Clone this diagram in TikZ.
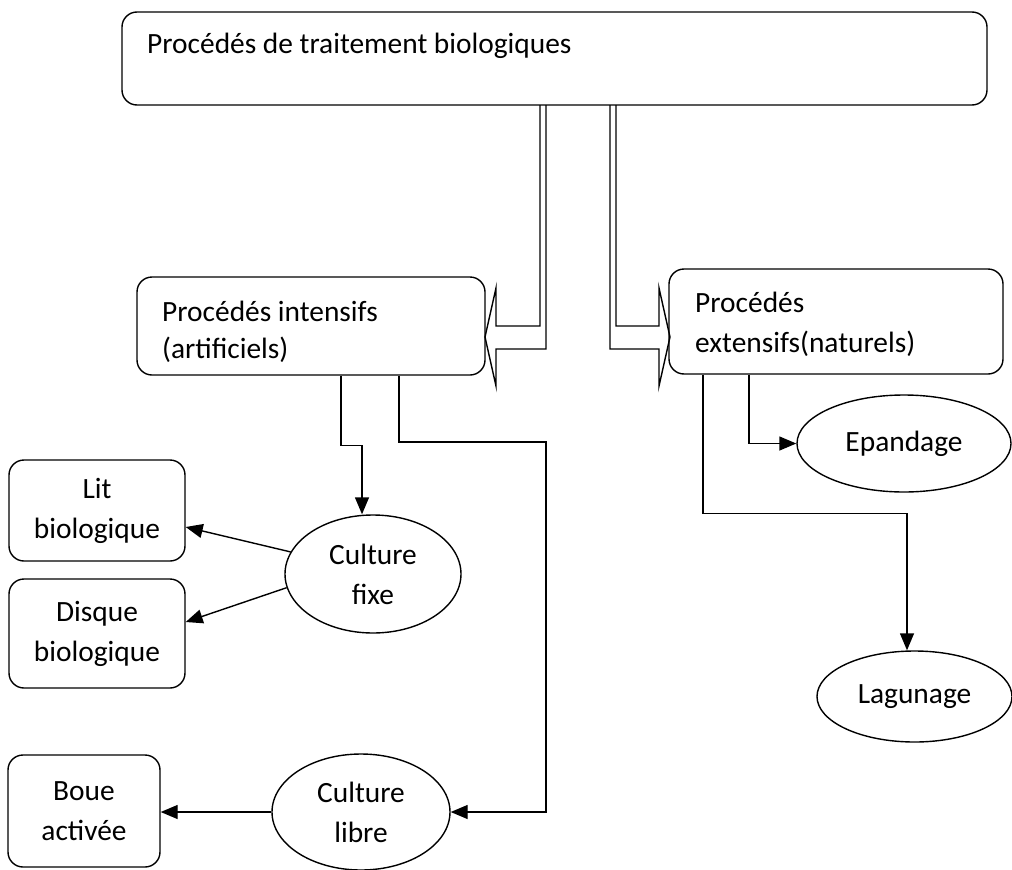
\documentclass[tikz,border=0pt]{standalone}
\usepackage{fontspec}
\setmainfont{Carlito}
\usetikzlibrary{arrows.meta,shapes.geometric,calc}
\newcommand\myfs{\fontsize{29.4}{40}\selectfont}
\begin{document}
\begin{tikzpicture}[x=1pt,y=-1pt,
  box/.style={draw,rounded corners=15pt,line width=1.4pt,inner sep=0pt,align=center,font=\myfs},
  oval/.style={draw,ellipse,line width=1.4pt,inner sep=0pt,align=center,font=\myfs},
  conn/.style={line width=1.4pt,line join=miter},
  arr/.style={conn,-{Triangle[length=17pt,width=14pt]}},
  txt/.style={anchor=base west,inner sep=0pt,font=\myfs},
]
\useasboundingbox (0,0) rectangle (1012,870);

% boxes
\node[box,minimum width=865pt,minimum height=93pt] (top) at (554.5,58.5) {};
\node[txt] (toptxt) at (147,53) {Procédés de traitement biologiques};

\node[box,minimum width=348pt,minimum height=98pt] (inten) at (311,326) {};
\node[txt] (inten1) at (162,321) {Procédés intensifs};
\node[txt] (inten2) at (162,358) {(artificiels)};

\node[box,minimum width=334pt,minimum height=105pt] (exten) at (836,321.5) {};
\node[txt] (exten1) at (695,312) {Procédés};
\node[txt] (exten2) at (695,352) {extensifs(naturels)};

\node[box,minimum width=176pt,minimum height=101pt] (lit) at (97,510.5) {Lit\\biologique};
\node[box,minimum width=176pt,minimum height=109pt] (disque) at (97,633.5) {Disque\\biologique};
\node[box,minimum width=152pt,minimum height=112pt] (boue) at (84,811) {Boue\\activée};

% ellipses
\node[oval,minimum width=176pt,minimum height=118pt] (cfixe) at (373,574) {Culture\\fixe};
\node[oval,minimum width=178pt,minimum height=116pt] (clibre) at (361,812) {Culture\\libre};
\node[oval,minimum width=214pt,minimum height=97pt] (epan) at (904,443.5) {Epandage};
\node[oval,minimum width=195pt,minimum height=91pt] (lagu) at (914.5,696.5) {Lagunage};

% bent block arrows
\draw[conn] (546,105) -- (546,349) -- (496,349) -- (496,386) -- (485,337)
  -- (496,288) -- (496,326) -- (540,326) -- (540,105);
\draw[conn] (610,105) -- (610,349) -- (659,349) -- (659,386) -- (670,337)
  -- (659,288) -- (659,326) -- (616,326) -- (616,105);

% connectors
\coordinate (c1) at (546,442);
\draw[arr] ([xshift=30pt]inten.south) -- ++(0,70) -| ([xshift=-11pt]cfixe.north);
\draw[arr] ([xshift=88pt]inten.south) |- (c1) |- (clibre.east);
\draw[arr] (cfixe.165) -- ([yshift=-16.5pt]lit.east);
\draw[arr] (cfixe.189) -- ([yshift=11.5pt]disque.east);
\draw[arr] (clibre.west) -- (clibre.west -| boue.east);

\draw[arr] ([xshift=-87pt]exten.south) |- (epan.west);
\draw[arr] ([xshift=-133pt]exten.south) -- ++(0,139) -| ([xshift=-7.5pt]lagu.north);
\end{tikzpicture}
\end{document}
